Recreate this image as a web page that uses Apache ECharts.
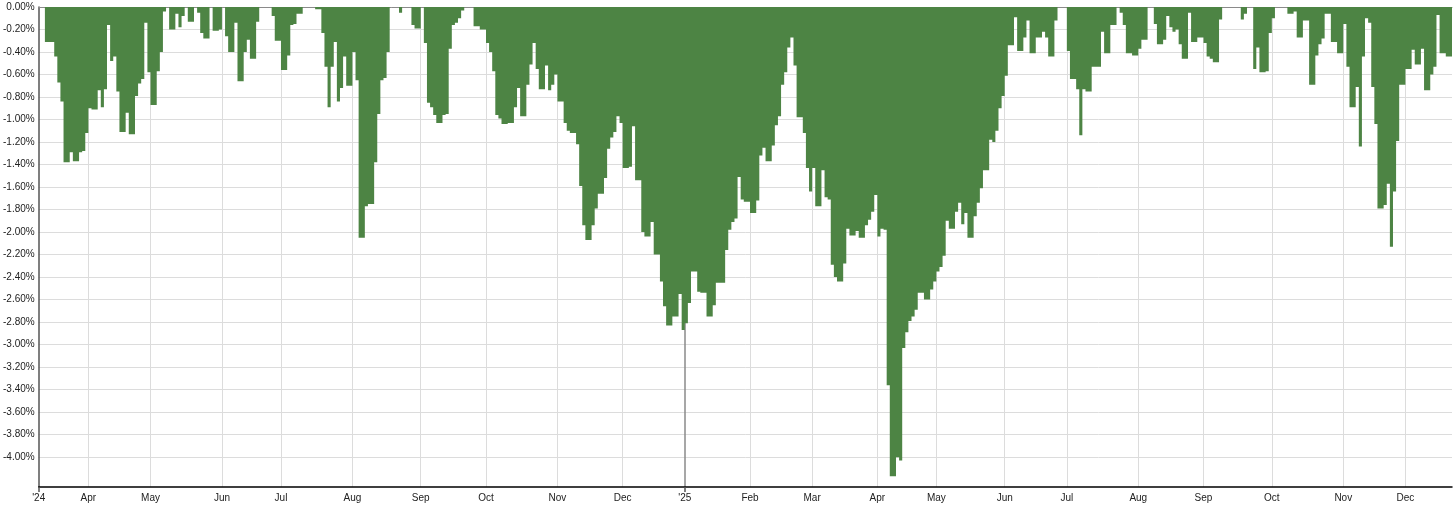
<!DOCTYPE html>
<html>
<head>
<meta charset="utf-8">
<title>Drawdown</title>
<script src="https://cdn.jsdelivr.net/npm/echarts@6/dist/echarts.min.js"></script>
<style>
  html, body { margin: 0; padding: 0; background: #fff; }
  #chart { width: 1456px; height: 509px; }
</style>
</head>
<body>
<div id="chart"></div>
<script>
// drawdown in %, one bar per trading day, one row per month
const drawdown = [
  0, 0, -0.31, -0.31, -0.31, -0.44, -0.67, -0.84, -1.38, -1.38, -1.29, -1.37, -1.37, -1.29, -1.28, -1.12,
  -0.90, -0.91, -0.91, -0.74, -0.89, -0.73, -0.16, -0.48, -0.44, -0.75, -1.11, -1.11, -0.94, -1.13, -1.13, -0.79, -0.68, -0.64, -0.14, -0.58,
  -0.87, -0.87, -0.57, -0.40, -0.04, 0, -0.20, -0.20, -0.06, -0.18, -0.08, 0, -0.13, -0.13, 0, -0.05, -0.23, -0.28, -0.28, 0, -0.21, -0.21, -0.20,
  0, -0.26, -0.40, -0.40, -0.14, -0.66, -0.66, -0.40, -0.29, -0.46, -0.46, -0.13, 0, 0, 0, 0, -0.08, -0.30, -0.30,
  -0.56, -0.56, -0.43, -0.16, -0.15, -0.06, -0.06, 0, 0, 0, 0, -0.02, -0.02, -0.23, -0.53, -0.89, -0.53, -0.31, -0.84, -0.72, -0.44, -0.70, -0.70,
  -0.40, -0.65, -2.05, -2.05, -1.77, -1.75, -1.75, -1.38, -0.95, -0.65, -0.63, -0.40, 0, 0, 0, -0.05, 0, 0, 0, -0.16, -0.19, -0.19,
  0, -0.32, -0.85, -0.89, -0.96, -1.03, -1.03, -0.96, -0.95, -0.37, -0.16, -0.14, -0.10, -0.03, 0, 0, 0, -0.17, -0.17, -0.20, -0.20,
  -0.32, -0.40, -0.57, -0.96, -0.99, -1.04, -1.04, -1.03, -1.03, -0.89, -0.72, -0.97, -0.97, -0.69, -0.51, -0.32, -0.55, -0.73, -0.73, -0.52, -0.74, -0.69, -0.60,
  -0.84, -0.84, -1.03, -1.10, -1.12, -1.12, -1.22, -1.59, -1.94, -2.07, -2.07, -1.94, -1.79, -1.66, -1.66, -1.52, -1.26, -1.16, -1.11, -0.97, -1.03,
  -1.43, -1.43, -1.42, -1.06, -1.54, -1.54, -2.00, -2.04, -2.04, -1.91, -2.20, -2.20, -2.44, -2.66, -2.83, -2.83, -2.75, -2.75, -2.55, -2.87,
  -2.81, -2.63, -2.35, -2.35, -2.53, -2.54, -2.54, -2.75, -2.75, -2.65, -2.45, -2.45, -2.45, -2.16, -1.98, -1.91, -1.88, -1.51, -1.71, -1.73, -1.73,
  -1.83, -1.83, -1.72, -1.32, -1.25, -1.37, -1.37, -1.23, -1.05, -0.97, -0.69, -0.58, -0.36, -0.27, -0.52, -0.98, -0.98, -1.12, -1.43, -1.64,
  -1.43, -1.77, -1.77, -1.45, -1.69, -1.71, -2.29, -2.40, -2.44, -2.44, -2.28, -1.97, -2.03, -2.03, -1.99, -2.05, -2.05, -1.94, -1.89, -1.82, -1.67,
  -2.04, -1.97, -1.98, -3.36, -4.17, -4.17, -4.00, -4.03, -3.03, -2.89, -2.79, -2.75, -2.69, -2.54, -2.54, -2.60, -2.60, -2.51, -2.44,
  -2.35, -2.31, -2.21, -1.90, -1.97, -1.97, -1.82, -1.74, -1.93, -1.83, -2.05, -2.05, -1.86, -1.74, -1.61, -1.45, -1.45, -1.18, -1.20, -1.10, -0.90, -0.79,
  -0.61, -0.34, -0.34, -0.09, -0.39, -0.39, -0.27, -0.12, -0.41, -0.41, -0.27, -0.27, -0.22, -0.27, -0.44, -0.44, -0.12, 0, 0, 0,
  -0.39, -0.64, -0.64, -0.73, -1.14, -0.73, -0.75, -0.75, -0.53, -0.53, -0.53, -0.22, -0.41, -0.41, -0.16, -0.16, 0, -0.05, -0.16, -0.41, -0.41, -0.43, -0.43,
  -0.37, -0.29, -0.29, 0, 0, -0.15, -0.33, -0.33, -0.29, -0.08, -0.18, -0.22, -0.20, -0.33, -0.46, -0.46, -0.05, -0.31, -0.31, -0.27, -0.27,
  -0.32, -0.44, -0.46, -0.49, -0.49, -0.11, 0, 0, 0, 0, 0, 0, -0.11, -0.06, 0, 0, -0.55, -0.36, -0.58, -0.58, -0.57, -0.23,
  -0.10, 0, 0, 0, 0, -0.06, -0.06, -0.04, -0.27, -0.27, -0.12, -0.12, -0.69, -0.69, -0.43, -0.33, -0.28, -0.06, -0.06, -0.31, -0.31, -0.41, -0.41,
  -0.15, -0.53, -0.89, -0.89, -0.71, -1.24, -0.44, -0.10, -0.14, -0.71, -1.04, -1.79, -1.79, -1.76, -1.57, -2.13, -1.64, -1.19, -0.69, -0.69,
  -0.55, -0.55, -0.38, -0.51, -0.51, -0.37, -0.74, -0.74, -0.60, -0.53, -0.07, -0.41, -0.41, -0.44, -0.44
];

const monthLabels = ["'24", 'Apr', 'May', 'Jun', 'Jul', 'Aug', 'Sep', 'Oct', 'Nov', 'Dec',
  "'25", 'Feb', 'Mar', 'Apr', 'May', 'Jun', 'Jul', 'Aug', 'Sep', 'Oct', 'Nov', 'Dec'];
// index of the first bar of each month
const monthStarts = [0, 16, 36, 59, 78, 101, 123, 144, 167, 188,
  208, 229, 249, 270, 289, 311, 331, 354, 375, 397, 420, 440];
const yearStarts = [0, 208];
const yTicks = [0, -0.2, -0.4, -0.6, -0.8, -1.0, -1.2, -1.4, -1.6, -1.8, -2.0,
  -2.2, -2.4, -2.6, -2.8, -3.0, -3.2, -3.4, -3.6, -3.8, -4.0];

const labelAt = {};
monthStarts.forEach((s, k) => { labelAt[s] = monthLabels[k]; });
const days = drawdown.map((_, i) => String(i));
const N = drawdown.length;
const monthLines = monthStarts.filter((s) => !yearStarts.includes(s));

const FONT = '"Liberation Sans", Arial, sans-serif';
const GREEN = '#4d8444';

// value axes spanning the same bars, used for month gridlines / labels
function indexAxis(extra) {
  return Object.assign({
    type: 'value',
    min: 0,
    max: N,
    axisLine: { show: false },
    axisTick: { show: false },
    axisLabel: { show: false },
    splitLine: { show: false }
  }, extra);
}

const chart = echarts.init(document.getElementById('chart'));
chart.setOption({
  animation: false,
  grid: { left: 36.5, right: 4, top: 7, bottom: 22 },
  xAxis: [
    {
      type: 'category',
      data: days,
      show: false
    },
    indexAxis({
      position: 'bottom',
      axisLine: { show: true, lineStyle: { color: '#000', width: 1.5 } },
      axisTick: { show: true, length: 5, customValues: yearStarts, lineStyle: { color: '#555', width: 1.5 } },
      axisLabel: {
        show: true,
        customValues: monthStarts,
        formatter: (v) => labelAt[v] || '',
        color: '#222',
        fontSize: 10,
        fontFamily: FONT,
        margin: 6
      }
    }),
    indexAxis({
      position: 'top',
      axisLine: { show: true, lineStyle: { color: '#8a8a8a', width: 1 } },
      axisTick: { show: false, customValues: monthLines },
      splitLine: { show: true, lineStyle: { color: '#dcdcdc', width: 1 } }
    }),
    indexAxis({
      position: 'top',
      axisTick: { show: false, customValues: [208] },
      splitLine: { show: true, lineStyle: { color: '#8a8a8a', width: 1.5 } }
    })
  ],
  yAxis: {
    type: 'value',
    min: -4.265,
    max: 0,
    axisLine: { show: true, lineStyle: { color: '#555', width: 1.5 } },
    axisTick: { show: false, customValues: yTicks },
    axisLabel: {
      customValues: yTicks,
      formatter: (v) => v.toFixed(2) + '%',
      color: '#222',
      fontSize: 10,
      fontFamily: FONT,
      margin: 4
    },
    splitLine: { show: true, lineStyle: { color: '#dcdcdc', width: 1 } }
  },
  series: [
    {
      type: 'bar',
      xAxisIndex: 0,
      data: drawdown,
      barCategoryGap: '0%',
      large: true,
      largeThreshold: 50,
      itemStyle: { color: GREEN }
    }
  ]
});
</script>
</body>
</html>
